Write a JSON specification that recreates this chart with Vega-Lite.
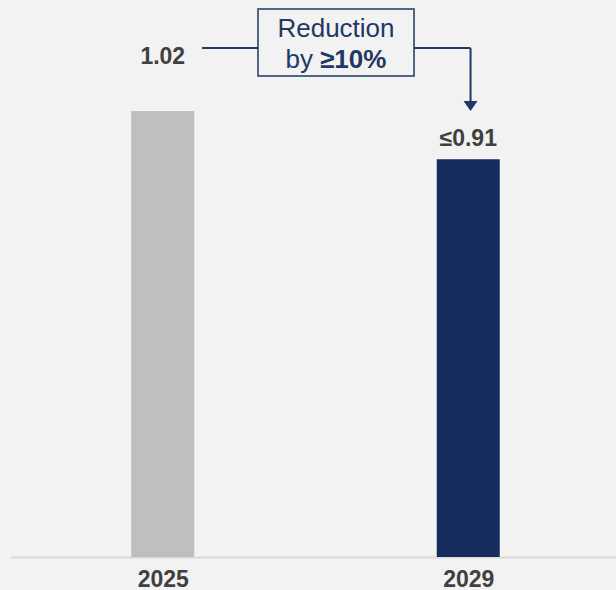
{
  "$schema": "https://vega.github.io/schema/vega-lite/v6.json",
  "width": 611,
  "height": 557,
  "autosize": {"type": "none"},
  "padding": {"left": 10, "top": 0, "right": 0, "bottom": 33},
  "background": "#f2f2f2",
  "config": {"view": {"stroke": null}, "font": "Liberation Sans", "scale": {"continuousPadding": 0}},
  "datasets": {
    "bars": [
      {"year": 2025, "value": 1.02, "label": "1.02", "kind": "baseline"},
      {"year": 2029, "value": 0.91, "label": "≤0.91", "kind": "target"}
    ],
    "segments": [
      {"x": 2025.514, "x2": 2026.247, "y": 1.164, "y2": 1.164},
      {"x": 2028.29, "x2": 2029.03, "y": 1.164, "y2": 1.164},
      {"x": 2029.03, "x2": 2029.03, "y": 1.164, "y2": 1.036}
    ],
    "box": [{"x": 2026.247, "x2": 2028.29, "y": 1.2534, "y2": 1.1002}],
    "arrow": [{"x": 2029.03, "y": 1.0316}],
    "boxtext": [
      {"x": 2027.268, "y": 1.1893, "text": "Reduction", "part": "line1"},
      {"x": 2026.967, "y": 1.1185, "text": "by", "part": "line2a"},
      {"x": 2027.059, "y": 1.1185, "text": "≥10%", "part": "line2b"}
    ]
  },
  "layer": [
    {
      "data": {"name": "bars"},
      "mark": {"type": "bar", "size": 63},
      "encoding": {
        "x": {
          "field": "year", "type": "quantitative",
          "scale": {"domain": [2023, 2031], "nice": false, "zero": false, "padding": 0},
          "axis": {
            "values": [2025, 2029], "format": "d", "title": null, "grid": false, "ticks": false,
            "labelFontSize": 23, "labelFontWeight": "bold", "labelColor": "#404040",
            "labelPadding": 11, "domainColor": "#d9d9d9", "domainWidth": 2, "labelFlush": false
          }
        },
        "y": {
          "field": "value", "type": "quantitative",
          "scale": {"domain": [0, 1.274], "nice": false},
          "axis": null
        },
        "color": {
          "field": "kind", "type": "nominal",
          "scale": {"domain": ["baseline", "target"], "range": ["#bebfc1", "#172c5e"]},
          "legend": null
        }
      }
    },
    {
      "data": {"name": "bars"},
      "transform": [{"filter": "datum.year == 2025"}],
      "mark": {"type": "text", "fontSize": 23, "fontWeight": "bold", "color": "#404040", "baseline": "alphabetic", "dy": -47},
      "encoding": {
        "x": {"field": "year", "type": "quantitative", "scale": {"domain": [2023, 2031], "nice": false, "zero": false, "padding": 0}},
        "y": {"field": "value", "type": "quantitative", "scale": {"domain": [0, 1.274], "nice": false}},
        "text": {"field": "label"}
      }
    },
    {
      "data": {"name": "bars"},
      "transform": [{"filter": "datum.year == 2029"}],
      "mark": {"type": "text", "fontSize": 23, "fontWeight": "bold", "color": "#404040", "baseline": "alphabetic", "dy": -13},
      "encoding": {
        "x": {"field": "year", "type": "quantitative", "scale": {"domain": [2023, 2031], "nice": false, "zero": false, "padding": 0}},
        "y": {"field": "value", "type": "quantitative", "scale": {"domain": [0, 1.274], "nice": false}},
        "text": {"field": "label"}
      }
    },
    {
      "data": {"name": "segments"},
      "mark": {"type": "rule", "color": "#1f3864", "strokeWidth": 2},
      "encoding": {
        "x": {"field": "x", "type": "quantitative", "scale": {"domain": [2023, 2031], "nice": false, "zero": false, "padding": 0}},
        "x2": {"field": "x2"},
        "y": {"field": "y", "type": "quantitative", "scale": {"domain": [0, 1.274], "nice": false}},
        "y2": {"field": "y2"}
      }
    },
    {
      "data": {"name": "box"},
      "mark": {"type": "rect", "fill": "#f2f2f2", "stroke": "#1f3864", "strokeWidth": 1.5},
      "encoding": {
        "x": {"field": "x", "type": "quantitative", "scale": {"domain": [2023, 2031], "nice": false, "zero": false, "padding": 0}},
        "x2": {"field": "x2"},
        "y": {"field": "y", "type": "quantitative", "scale": {"domain": [0, 1.274], "nice": false}},
        "y2": {"field": "y2"}
      }
    },
    {
      "data": {"name": "arrow"},
      "mark": {"type": "point", "shape": "M-1,-0.7L1,-0.7L0,0.7Z", "size": 196, "filled": true, "color": "#1f3864", "opacity": 1, "strokeWidth": 0},
      "encoding": {
        "x": {"field": "x", "type": "quantitative", "scale": {"domain": [2023, 2031], "nice": false, "zero": false, "padding": 0}},
        "y": {"field": "y", "type": "quantitative", "scale": {"domain": [0, 1.274], "nice": false}}
      }
    },
    {
      "data": {"name": "boxtext"},
      "transform": [{"filter": "datum.part == 'line1'"}],
      "mark": {"type": "text", "fontSize": 26, "color": "#1f3864", "baseline": "alphabetic", "align": "center"},
      "encoding": {
        "x": {"field": "x", "type": "quantitative", "scale": {"domain": [2023, 2031], "nice": false, "zero": false, "padding": 0}},
        "y": {"field": "y", "type": "quantitative", "scale": {"domain": [0, 1.274], "nice": false}},
        "text": {"field": "text"}
      }
    },
    {
      "data": {"name": "boxtext"},
      "transform": [{"filter": "datum.part == 'line2a'"}],
      "mark": {"type": "text", "fontSize": 26, "color": "#1f3864", "baseline": "alphabetic", "align": "right"},
      "encoding": {
        "x": {"field": "x", "type": "quantitative", "scale": {"domain": [2023, 2031], "nice": false, "zero": false, "padding": 0}},
        "y": {"field": "y", "type": "quantitative", "scale": {"domain": [0, 1.274], "nice": false}},
        "text": {"field": "text"}
      }
    },
    {
      "data": {"name": "boxtext"},
      "transform": [{"filter": "datum.part == 'line2b'"}],
      "mark": {"type": "text", "fontSize": 26, "fontWeight": "bold", "color": "#1f3864", "baseline": "alphabetic", "align": "left"},
      "encoding": {
        "x": {"field": "x", "type": "quantitative", "scale": {"domain": [2023, 2031], "nice": false, "zero": false, "padding": 0}},
        "y": {"field": "y", "type": "quantitative", "scale": {"domain": [0, 1.274], "nice": false}},
        "text": {"field": "text"}
      }
    }
  ]
}
